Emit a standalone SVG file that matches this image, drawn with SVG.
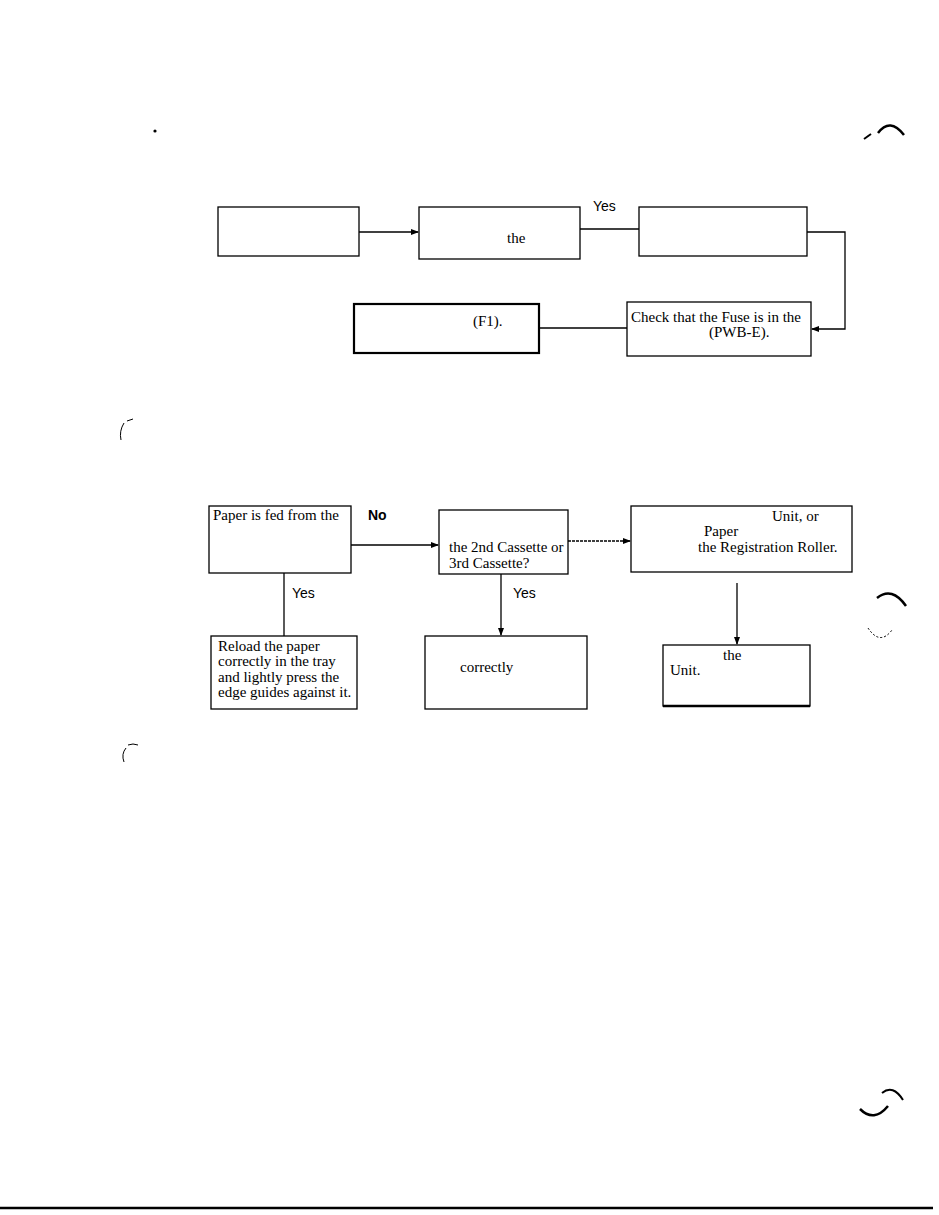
<svg xmlns="http://www.w3.org/2000/svg" width="939" height="1215" viewBox="0 0 939 1215">
<defs>
<style>
.box{fill:#fff;stroke:#000;stroke-width:1.3}
.thick{stroke-width:2.2}
.t{font-family:"Liberation Serif","Times New Roman",serif;font-size:15px;fill:#000}
.lbl{font-family:"Liberation Sans",Arial,sans-serif;font-size:14px;fill:#000}
.c{fill:none;stroke:#000;stroke-width:1.3}
.mark{fill:none;stroke:#000}
</style>
<marker id="ah" markerWidth="8" markerHeight="6" refX="7" refY="3" orient="auto" markerUnits="userSpaceOnUse">
<path d="M0,0 L8,3 L0,6 z" fill="#000"/>
</marker>
</defs>
<rect width="939" height="1215" fill="#fff"/>

<g id="connectors">
<line class="c" x1="359" y1="232" x2="418" y2="232" stroke-width="2.5" marker-end="url(#ah)"/>
<line class="c" x1="580" y1="229" x2="639" y2="229"/>
<polyline class="c" points="807,232 845,232 845,329 812,329" stroke-width="1.8" marker-end="url(#ah)"/>
<line class="c" x1="539" y1="328" x2="627" y2="328" stroke-width="1"/>
<line class="c" x1="351" y1="545" x2="438" y2="545" marker-end="url(#ah)"/>
<line class="c" x1="568" y1="541" x2="630" y2="541" stroke-dasharray="3 1" marker-end="url(#ah)"/>
<line class="c" x1="284" y1="573" x2="284" y2="636" stroke-width="1.8"/>
<line class="c" x1="501" y1="574" x2="501" y2="635" stroke-width="1" marker-end="url(#ah)"/>
<line class="c" x1="737" y1="583" x2="737" y2="604" stroke-width="2.2"/>
<line class="c" x1="737" y1="604" x2="737" y2="644" stroke-width="1" marker-end="url(#ah)"/>
</g>

<g id="labels">
<text class="lbl" x="593" y="211">Yes</text>
<text class="lbl" x="368" y="520" font-weight="bold">No</text>
<text class="lbl" x="292" y="598">Yes</text>
<text class="lbl" x="513" y="598">Yes</text>
</g>

<g id="nodeA"><rect class="box" x="218" y="207" width="141" height="49" stroke-width="1.8"/></g>
<g id="nodeB"><rect class="box" x="419" y="207" width="161" height="52"/>
<text class="t" x="507" y="243">the</text></g>
<g id="nodeC"><rect class="box" x="639" y="207" width="168" height="49" stroke-width="1.6"/></g>
<g id="nodeD"><rect class="box" x="627" y="302" width="184" height="54" stroke-width="1"/>
<text class="t" x="631" y="322">Check that the Fuse is in the</text>
<text class="t" x="709" y="337">(PWB-E).</text></g>
<g id="nodeE"><rect class="box thick" x="354" y="304" width="185" height="49"/>
<text class="t" x="473" y="326">(F1).</text></g>

<g id="nodeF"><rect class="box" x="209" y="506" width="142" height="67" stroke-width="1.6"/>
<text class="t" x="213" y="520">Paper is fed from the</text></g>
<g id="nodeG"><rect class="box" x="439" y="510" width="129" height="64"/>
<text class="t" x="449" y="552">the 2nd Cassette or</text>
<text class="t" x="449" y="568">3rd Cassette?</text></g>
<g id="nodeH"><rect class="box" x="631" y="506" width="221" height="66" stroke-width="1.6"/>
<text class="t" x="772" y="521">Unit, or</text>
<text class="t" x="704" y="536">Paper</text>
<text class="t" x="698" y="552">the Registration Roller.</text></g>
<g id="nodeI"><rect class="box" x="211" y="636" width="146" height="73" stroke-width="1.6"/>
<text class="t" x="218" y="651">Reload the paper</text>
<text class="t" x="218" y="666">correctly in the tray</text>
<text class="t" x="218" y="682">and lightly press the</text>
<text class="t" x="218" y="697">edge guides against it.</text></g>
<g id="nodeJ"><rect class="box" x="425" y="636" width="162" height="73" stroke-width="1"/>
<text class="t" x="460" y="672">correctly</text></g>
<g id="nodeK"><rect class="box" x="663" y="645" width="147" height="61" stroke-width="1.6"/>
<line x1="663" y1="706" x2="810" y2="706" stroke="#000" stroke-width="2.5"/>
<text class="t" x="723" y="660">the</text>
<text class="t" x="670" y="675">Unit.</text></g>

<g id="marks">
<circle cx="155" cy="131" r="1.6" fill="#000"/>
<path class="mark" d="M878 133 Q890 117 904 135" stroke-width="2.5"/>
<path class="mark" d="M864 139 L871 134" stroke-width="2"/>
<path class="mark" d="M124 423 Q119 431 121 440" stroke="#555" stroke-width="1"/>
<path class="mark" d="M127 421 L133 419" stroke="#777" stroke-width="1"/>
<path class="mark" d="M126 748 Q121 754 124 762" stroke="#555" stroke-width="1"/>
<path class="mark" d="M128 745 Q133 743 138 745" stroke="#777" stroke-width="1"/>
<path class="mark" d="M877 598 Q892 586 906 606" stroke-width="2.5"/>
<path class="mark" d="M868 628 Q880 646 892 630" stroke="#999" stroke-width="1" stroke-dasharray="2 2"/>
<path class="mark" d="M882 1093 Q893 1084 903 1100" stroke-width="2"/>
<path class="mark" d="M860 1109 Q874 1123 888 1106" stroke-width="2.5"/>
<line x1="0" y1="1208" x2="933" y2="1208" stroke="#000" stroke-width="2.5"/>
</g>
</svg>
